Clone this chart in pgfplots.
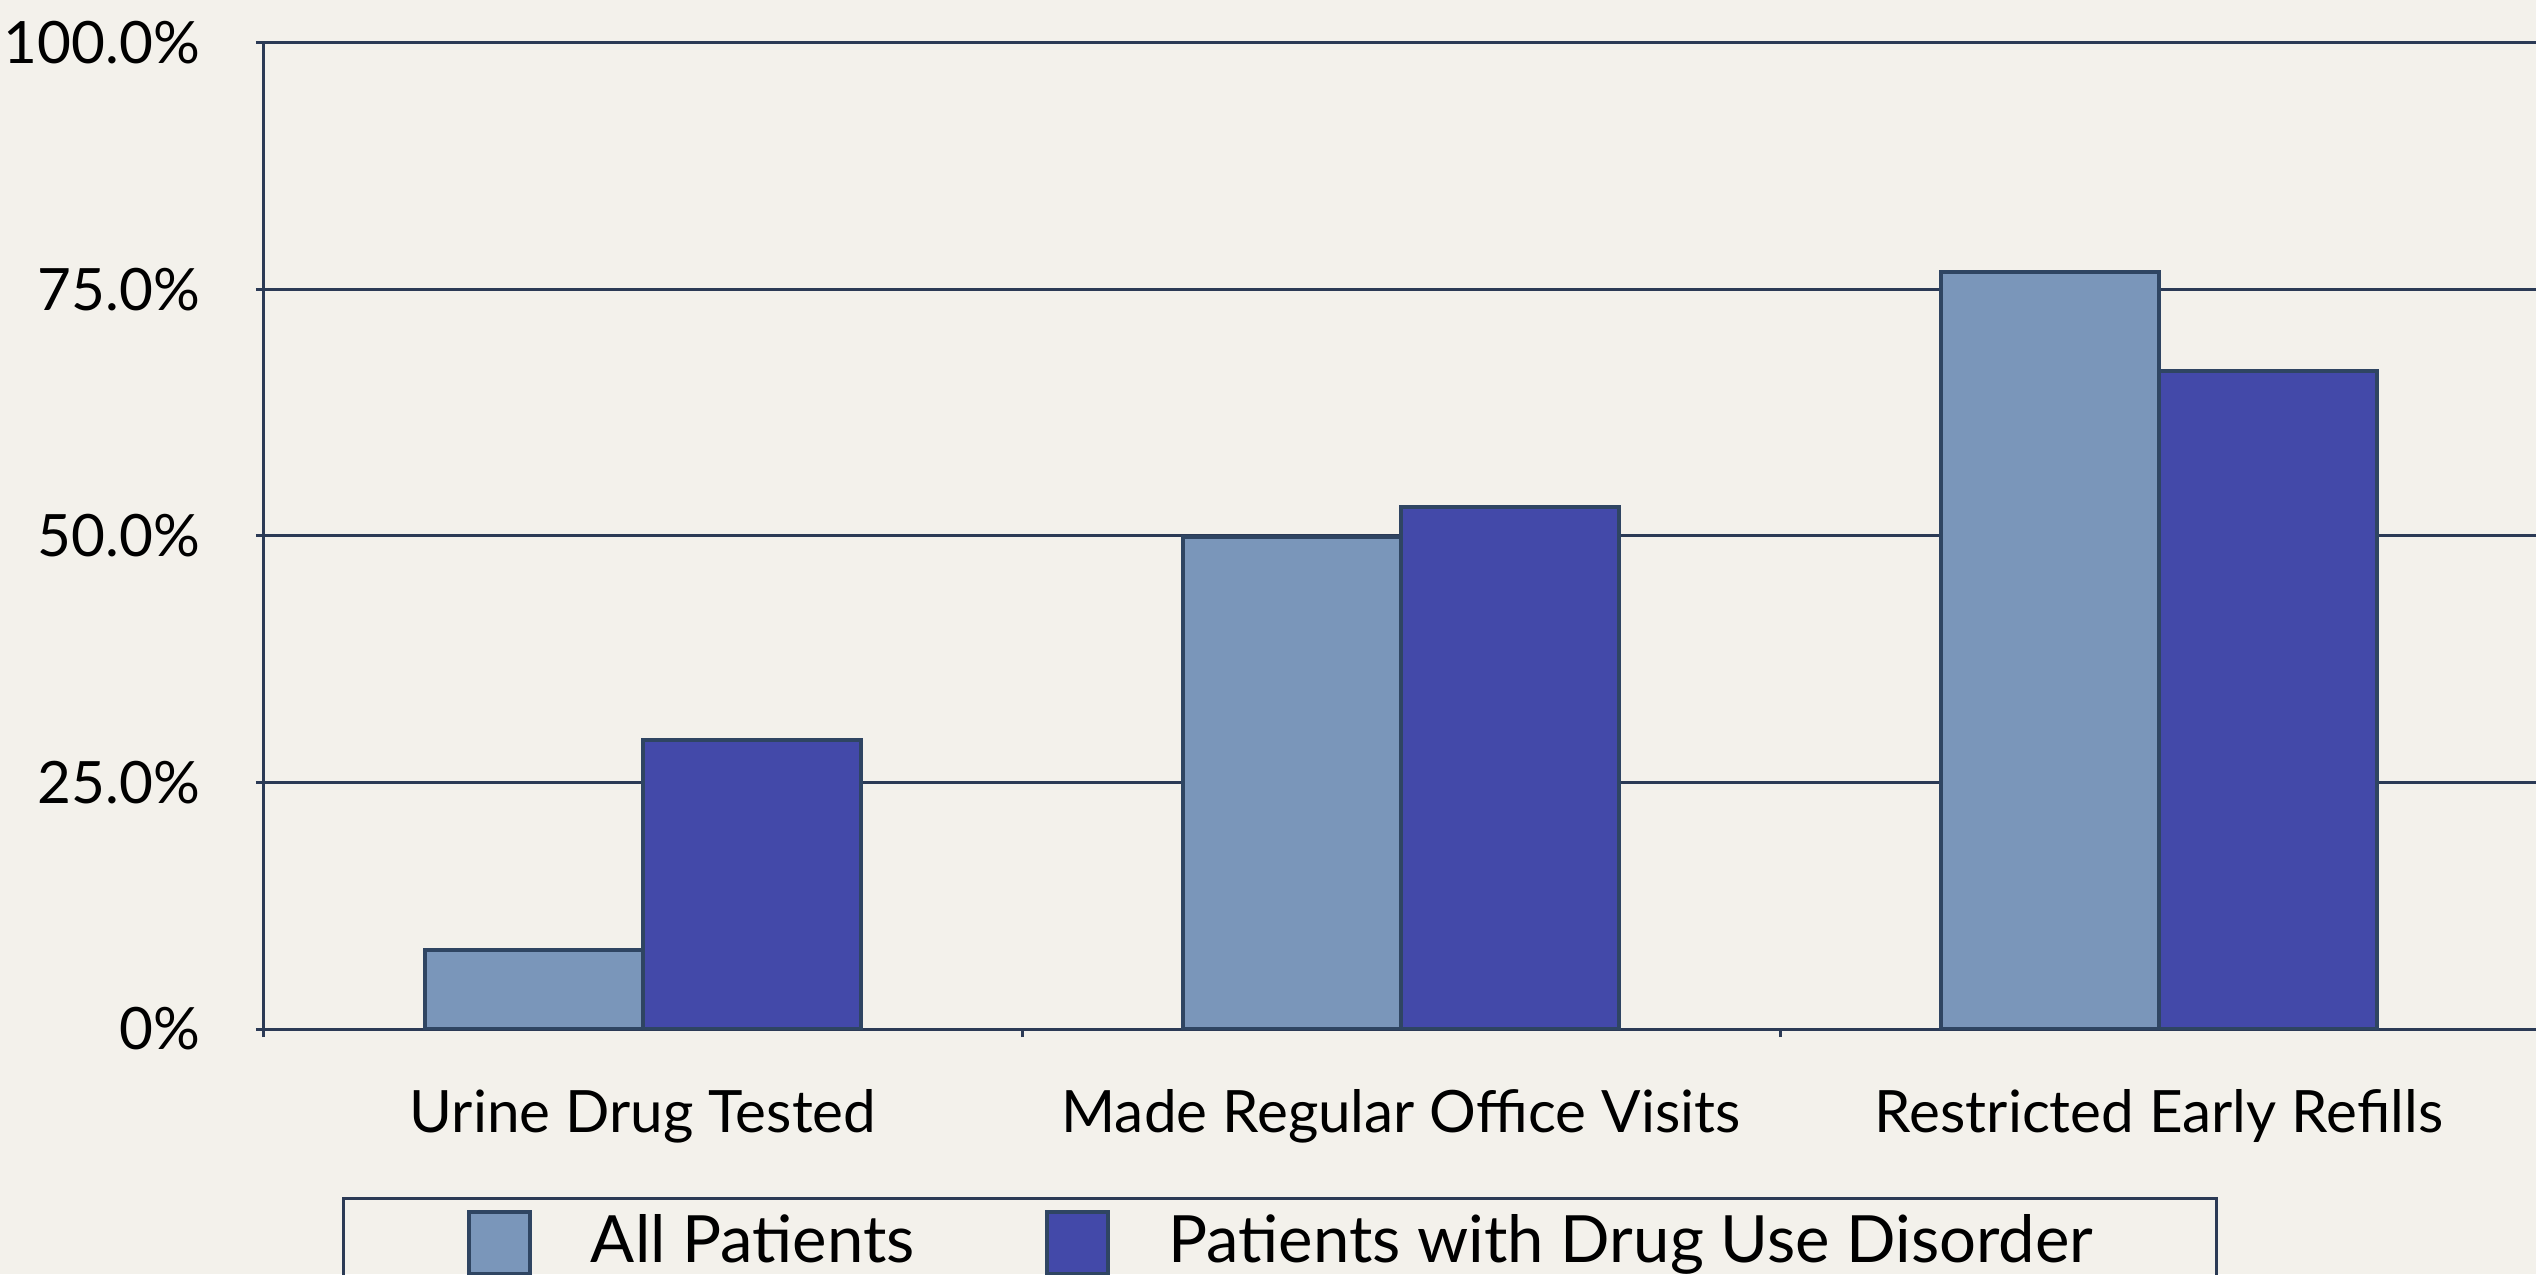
\documentclass[border=0pt]{standalone}
\usepackage{pgfplots}
\pgfplotsset{compat=1.18}
\usepackage{fontspec}
\setmainfont{Lato}
\definecolor{bg}{HTML}{F3F1EB}
\definecolor{allc}{HTML}{7A96BA}
\definecolor{drugc}{HTML}{4349A9}
\definecolor{edgec}{HTML}{2F4562}
\definecolor{gridc}{HTML}{2B3A55}
\pgfplotsset{
  sqlegend/.style={legend image code/.code={\draw[##1] (0pt,-7.9pt) rectangle (15.25pt,7.6pt);}}
}
\begin{document}
\begin{tikzpicture}
\path[use as bounding box, fill=bg] (0,0) rectangle (634pt,318.5pt);
\clip (0,0) rectangle (634pt,318.5pt);
\begin{axis}[
  at={(66pt,61.25pt)}, anchor=south west,
  scale only axis, width=568.5pt, height=246.5pt,
  xmin=-0.5, xmax=2.5, ymin=0, ymax=100,
  axis x line*=bottom, axis y line*=left,
  axis line style={gridc, line width=0.75pt},
  ytick={0,25,50,75,100},
  yticklabels={0\%,25.0\%,50.0\%,75.0\%,100.0\%},
  ymajorgrids, grid style={gridc, line width=0.75pt},
  tick style={gridc, line width=0.75pt},
  tick align=outside, major tick length=2pt,
  xtick={-0.5,0.5,1.5}, xticklabels={},
  extra x ticks={0,1,2},
  extra x tick labels={Urine Drug Tested, Made Regular Office Visits, Restricted Early Refills},
  extra x tick style={major tick length=0pt, grid=none},
  ticklabel style={font=\fontsize{14.6}{17.5}\selectfont, text=black},
  yticklabel style={xshift=-10.5pt},
  xticklabel style={yshift=-11.6pt},
  legend columns=2,
  legend style={at={(0.4468,-0.1704)}, anchor=north, draw=gridc, line width=0.75pt,
    fill=none, inner xsep=30.8pt, inner ysep=2.75pt,
    font=\fontsize{16.3}{19}\selectfont,
    nodes={inner sep=0pt},
    /tikz/every odd column/.append style={column sep=14.75pt},
    /tikz/every even column/.append style={column sep=32.5pt}},
]
\addplot[ybar, bar width=54.5pt, bar shift=-27.25pt, fill=allc, draw=edgec, line width=1pt, sqlegend]
  coordinates {(0,8.0) (1,49.9) (2,76.8)};
\addplot[ybar, bar width=54.5pt, bar shift=27.25pt, fill=drugc, draw=edgec, line width=1pt, sqlegend]
  coordinates {(0,29.3) (1,52.9) (2,66.7)};
\legend{All Patients, Patients with Drug Use Disorder}
\end{axis}
\end{tikzpicture}
\end{document}
